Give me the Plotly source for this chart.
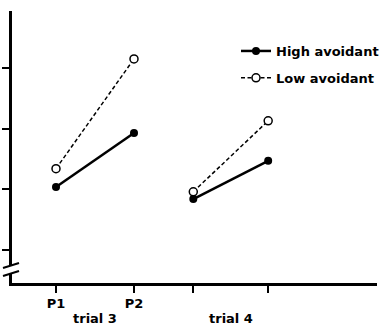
import plotly.graph_objects as go

# ---- data ----
phases = ["P1", "P2"]
trials = ["trial 3", "trial 4"]
x_pos = {"trial 3": [1.0, 2.0], "trial 4": [2.76, 3.72]}
tick_text = ["P1", "P2", "", ""]
y_ticks = [1, 2, 3, 4]
high_avoidant = {"trial 3": [2.04, 2.93], "trial 4": [1.84, 2.47]}
low_avoidant = {"trial 3": [2.34, 4.15], "trial 4": [1.96, 3.13]}

W, H = 389, 327
ML, MR, MT, MB = 12, 12, 11, 44
FONT = "DejaVu Sans"

fig = go.Figure()

for i, t in enumerate(trials):
    fig.add_trace(go.Scatter(
        x=x_pos[t], y=low_avoidant[t], mode="lines+markers",
        name="Low avoidant", legendgroup="low", legendrank=2, showlegend=(i == 0),
        line=dict(color="black", width=1.5, dash="4px,2.5px"),
        marker=dict(symbol="circle", size=8, color="white", line=dict(color="black", width=1.5)),
    ))
for i, t in enumerate(trials):
    fig.add_trace(go.Scatter(
        x=x_pos[t], y=high_avoidant[t], mode="lines+markers",
        name="High avoidant", legendgroup="high", legendrank=1, showlegend=(i == 0),
        line=dict(color="black", width=2.5),
        marker=dict(symbol="circle", size=8, color="black"),
    ))

all_x = x_pos["trial 3"] + x_pos["trial 4"]

pw = W - ML - MR
ph = H - MT - MB
def px(x):
    return (x - ML) / pw
def py(y):
    return (H - MB - y) / ph

shapes = [
    # axis break: gap + two slashes
    dict(type="rect", xref="paper", yref="paper", x0=px(8), x1=px(17), y0=py(273), y1=py(266),
         fillcolor="white", line=dict(width=0), layer="above"),
    dict(type="line", xref="paper", yref="paper", x0=px(3), y0=py(268), x1=px(19), y1=py(263),
         line=dict(color="black", width=2), layer="above"),
    dict(type="line", xref="paper", yref="paper", x0=px(3), y0=py(276), x1=px(19), y1=py(271),
         line=dict(color="black", width=2), layer="above"),
]

annotations = []
for t in trials:
    annotations.append(dict(
        x=sum(x_pos[t]) / 2, y=py(318), xref="x", yref="paper", text=t, showarrow=False,
        font=dict(family=FONT, size=13, color="black", weight="bold"),
        xanchor="center", yanchor="middle",
    ))

fig.update_layout(
    width=W, height=H,
    margin=dict(l=ML, r=MR, t=MT, b=MB, pad=0, autoexpand=False),
    paper_bgcolor="white", plot_bgcolor="white",
    showlegend=True,
    legend=dict(x=px(236), y=py(36), xanchor="left", yanchor="top",
                font=dict(family=FONT, size=13, color="black", weight="bold"),
                traceorder="grouped", tracegroupgap=7, bgcolor="rgba(0,0,0,0)"),
    xaxis=dict(range=[0.436, 5.115], showline=True, linecolor="black", linewidth=2.5,
               ticks="outside", ticklen=7, tickwidth=1.5, tickcolor="black",
               tickvals=all_x, ticktext=tick_text, showgrid=False, zeroline=False,
               tickfont=dict(family=FONT, size=13, color="black", weight="bold")),
    yaxis=dict(range=[0.456, 4.94], showline=True, linecolor="black", linewidth=3,
               ticks="outside", ticklen=7, tickwidth=1.5, tickcolor="black",
               tickvals=y_ticks, showticklabels=False, showgrid=False, zeroline=False),
    shapes=shapes, annotations=annotations,
)

fig.write_html("out.html")
